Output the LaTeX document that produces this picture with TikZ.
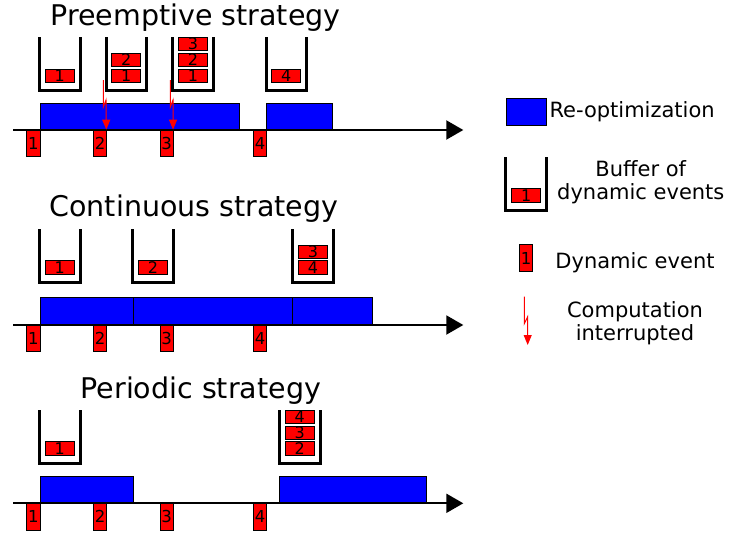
\documentclass[tikz,border=0pt]{standalone}
\usepackage{fontspec}
\setmainfont{DejaVu Sans}
\usetikzlibrary{arrows.meta}
\tikzstyle{event}=[draw=black, fill=red, line width=0.8pt, inner sep=0pt, minimum width=13.3pt, minimum height=26.7pt, font=\fontsize{16.5}{16.5}\selectfont]
\tikzstyle{queued}=[draw=black, fill=red, line width=0.8pt, inner sep=0pt, minimum width=29pt, minimum height=13.3pt, font=\fontsize{16}{16}\selectfont]
\tikzstyle{reopt}=[draw=black, fill=blue, line width=0.8pt]
\tikzstyle{buffer}=[draw=black, line width=3pt]
\tikzstyle{timeline}=[draw=black, line width=2pt, -{Triangle[length=17pt, width=19pt]}]
\tikzstyle{interrupt}=[draw=red, line width=1pt, -{Triangle[length=10pt, width=8pt]}]
\tikzstyle{title}=[inner sep=0pt, anchor=base, font=\fontsize{28.5}{30}\selectfont]
\tikzstyle{legend}=[inner sep=0pt, align=center, font=\fontsize{21}{23}\selectfont]

\begin{document}
\begin{tikzpicture}[x=1pt, y=-1pt]
    \useasboundingbox (0,0) rectangle (729,533);
% Titles
    \node[title] (tpre) at (195.5,25) {Preemptive strategy};
    \node[title] (tcon) at (194,216.7) {Continuous strategy};
    \node[title] (tper) at (200.8,398.3) {Periodic strategy};
% Re-optimizations
    \filldraw[reopt] (40,103.3) rectangle (239.3,130);
    \filldraw[reopt] (266.7,103.3) rectangle (332.7,130);
    \filldraw[reopt] (40,297.7) rectangle (133.3,325);
    \filldraw[reopt] (133.3,297.7) rectangle (292.7,325);
    \filldraw[reopt] (292.7,297.7) rectangle (372.7,325);
    \filldraw[reopt] (40,476.7) rectangle (133.3,503.3);
    \filldraw[reopt] (279.3,476.7) rectangle (426,503.3);
% Time axes
    \draw[timeline] (13,130) -- (463.3,130);
    \draw[timeline] (13,325) -- (463.3,325);
    \draw[timeline] (13,503.3) -- (463.3,503.3);
% Dynamic events
    \node[event] (pre1) at (33.3,143.4) {1};
    \node[event] (pre2) at (100,143.4) {2};
    \node[event] (pre3) at (166.7,143.4) {3};
    \node[event] (pre4) at (260,143.4) {4};
    \node[event] (con1) at (33.3,338.4) {1};
    \node[event] (con2) at (100,338.4) {2};
    \node[event] (con3) at (166.7,338.4) {3};
    \node[event] (con4) at (260,338.4) {4};
    \node[event] (per1) at (33.3,516.7) {1};
    \node[event] (per2) at (100,516.7) {2};
    \node[event] (per3) at (166.7,516.7) {3};
    \node[event] (per4) at (260,516.7) {4};
% Buffers
    \draw[buffer] (39.3,37) |- (80,90) -- (80,37);
    \draw[buffer] (106,37) |- (146.7,90) -- (146.7,37);
    \draw[buffer] (172.7,37) |- (213.3,90) -- (213.3,37);
    \draw[buffer] (266,37) |- (306.7,90) -- (306.7,37);
    \draw[buffer] (39.3,229.3) |- (80,282.3) -- (80,229.3);
    \draw[buffer] (132.7,229.3) |- (173.3,282.3) -- (173.3,229.3);
    \draw[buffer] (292.7,229.3) |- (333.3,282.3) -- (333.3,229.3);
    \draw[buffer] (39.3,410) |- (80,463.3) -- (80,410);
    \draw[buffer] (279.3,410) |- (320,463.3) -- (320,410);
% Buffered events
    \node[queued] (preA1) at (59.7,75.7) {1};
    \node[queued] (preB1) at (126.3,75.7) {1};
    \node[queued] (preB2) at (126.3,59.7) {2};
    \node[queued] (preC1) at (193,75.7) {1};
    \node[queued] (preC2) at (193,59.7) {2};
    \node[queued] (preC3) at (193,43.7) {3};
    \node[queued] (preD4) at (286.3,75.7) {4};
    \node[queued] (conA1) at (59.7,267.3) {1};
    \node[queued] (conB2) at (153,267.3) {2};
    \node[queued] (conC4) at (313,267.3) {4};
    \node[queued] (conC3) at (313,251.7) {3};
    \node[queued] (perA1) at (59.7,448.3) {1};
    \node[queued] (perB2) at (299.7,448.3) {2};
    \node[queued] (perB3) at (299.7,432.7) {3};
    \node[queued] (perB4) at (299.7,416.7) {4};
% Interruptions
    \coordinate (cut2) at (103.3,80);
    \coordinate (cut3) at (170.3,80);
    \draw[interrupt] (cut2) -- ++(0,27) -- ++(2.7,-7) -- ([xshift=-0.7pt]pre2.north east);
    \draw[interrupt] (cut3) -- ++(0,27) -- ++(2.7,-7) -- ([xshift=-0.7pt]pre3.north east);
% Legend
    \filldraw[reopt] (506,98.3) rectangle (546,125);
    \node[legend, anchor=base west] (lreopt) at (549.3,117.7) {Re-optimization};
    \draw[buffer] (505,157.3) |- (546.7,210) -- (546.7,157.3);
    \node[queued, minimum height=14pt] (lqueued) at (526.2,195.3) {1};
    \node[legend] (lbuffer) at (640.8,182) {Buffer of\\dynamic events};
    \node[event] (levent) at (526,258) {1};
    \node[legend, anchor=base] (ldynamic) at (635,268.3) {Dynamic event};
    \coordinate (lcut) at (524.3,296.7);
    \coordinate (lend) at (527.7,345);
    \draw[interrupt] (lcut) -- ++(0,27) -- ++(3.4,-7) -- (lend);
    \node[legend] (lcomp) at (635,323) {Computation\\interrupted};
\end{tikzpicture}
\end{document}
